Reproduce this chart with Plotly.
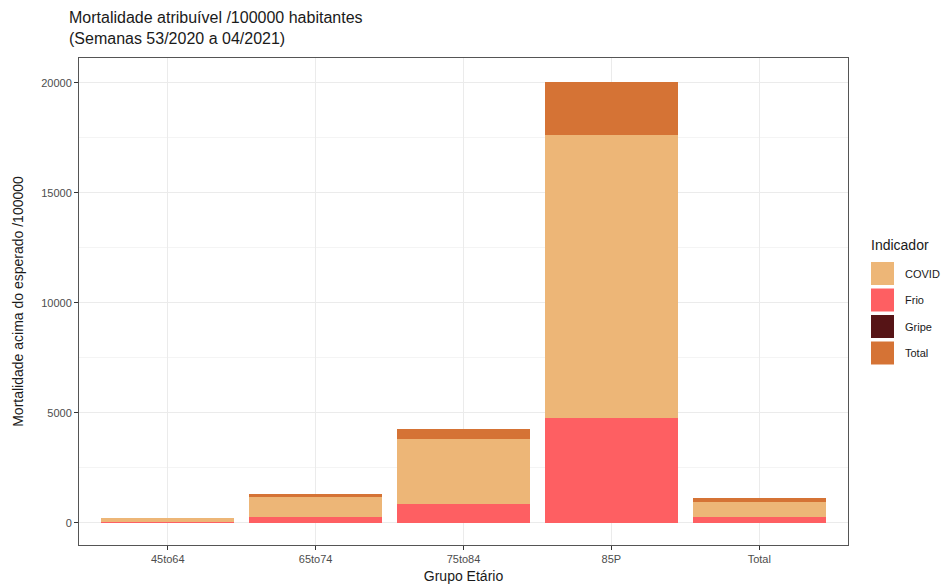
import plotly.graph_objects as go

categories = ["45to64", "65to74", "75to84", "85P", "Total"]
frio = [60, 290, 850, 4760, 290]
covid = [160, 880, 2970, 12880, 680]
gripe = [0, 0, 0, 0, 0]
total = [0, 130, 450, 2390, 150]

y_ticks = [0, 5000, 10000, 15000, 20000]
legend_order = ["COVID", "Frio", "Gripe", "Total"]

colors = {"COVID": "#EDB677", "Frio": "#FE5F62", "Gripe": "#561416", "Total": "#D57335"}

W, H = 948, 587
L, R, T, B = 79, 848, 58, 545


def px(x):
    return (x - L) / (R - L)


def py(y):
    return (B - y) / (B - T)


fig = go.Figure()
for name, vals in [("Frio", frio), ("COVID", covid), ("Gripe", gripe), ("Total", total)]:
    fig.add_trace(go.Bar(
        x=categories, y=vals, name=name, showlegend=False,
        marker=dict(color=colors[name], line=dict(width=0)),
    ))

shapes = []
annotations = [
    dict(text="Mortalidade atribuível /100000 habitantes<br>(Semanas 53/2020 a 04/2021)",
         x=px(67), y=py(7), xref="paper", yref="paper", xanchor="left", yanchor="top",
         align="left", showarrow=False, font=dict(size=16, color="#1a1a1a")),
    dict(text="Indicador", x=px(869), y=py(245), xref="paper", yref="paper",
         xanchor="left", yanchor="middle", showarrow=False, font=dict(size=14, color="#1a1a1a")),
]
key_top = 262
for i, name in enumerate(legend_order):
    y0 = key_top + i * 26.5
    shapes.append(dict(type="rect", xref="paper", yref="paper",
                       x0=px(871), x1=px(894), y0=py(y0), y1=py(y0 + 23),
                       fillcolor=colors[name], line=dict(width=0)))
    annotations.append(dict(text=name, x=px(903), y=py(y0 + 11.5), xref="paper", yref="paper",
                            xanchor="left", yanchor="middle", showarrow=False,
                            font=dict(size=11, color="#1a1a1a")))

fig.update_layout(
    barmode="stack",
    bargap=0.1,
    width=W, height=H,
    paper_bgcolor="white", plot_bgcolor="white",
    margin=dict(l=L, r=W - R, t=T, b=H - B, autoexpand=False),
    font=dict(family="Liberation Sans, Arial, sans-serif", color="#1a1a1a"),
    showlegend=False,
    shapes=shapes,
    annotations=annotations,
    xaxis=dict(
        title=dict(text="Grupo Etário", font=dict(size=14), standoff=6),
        automargin=False,
        range=[-0.6, 4.6], showgrid=True, gridcolor="#EBEBEB", gridwidth=1,
        ticks="outside", ticklen=4, tickcolor="#333333",
        tickfont=dict(size=11, color="#4D4D4D"),
        showline=True, linecolor="#555555", mirror=True, linewidth=1,
        zeroline=False,
    ),
    yaxis=dict(
        title=dict(text="Mortalidade acima do esperado /100000", font=dict(size=14), standoff=14),
        automargin=False,
        range=[-1000, 21130], tickvals=y_ticks, ticktext=[str(v) for v in y_ticks],
        showgrid=True, gridcolor="#EBEBEB", gridwidth=1,
        minor=dict(tickvals=[2500, 7500, 12500, 17500], showgrid=True, gridcolor="#F4F4F4", gridwidth=0.5, ticks=""),
        ticks="outside", ticklen=4, tickcolor="#333333",
        tickfont=dict(size=11, color="#4D4D4D"),
        showline=True, linecolor="#555555", mirror=True, linewidth=1,
        zeroline=False,
    ),
)

fig.write_html("out.html", config={"displayModeBar": False},
               post_script="document.body.style.margin='0';document.body.style.overflow='hidden';")
